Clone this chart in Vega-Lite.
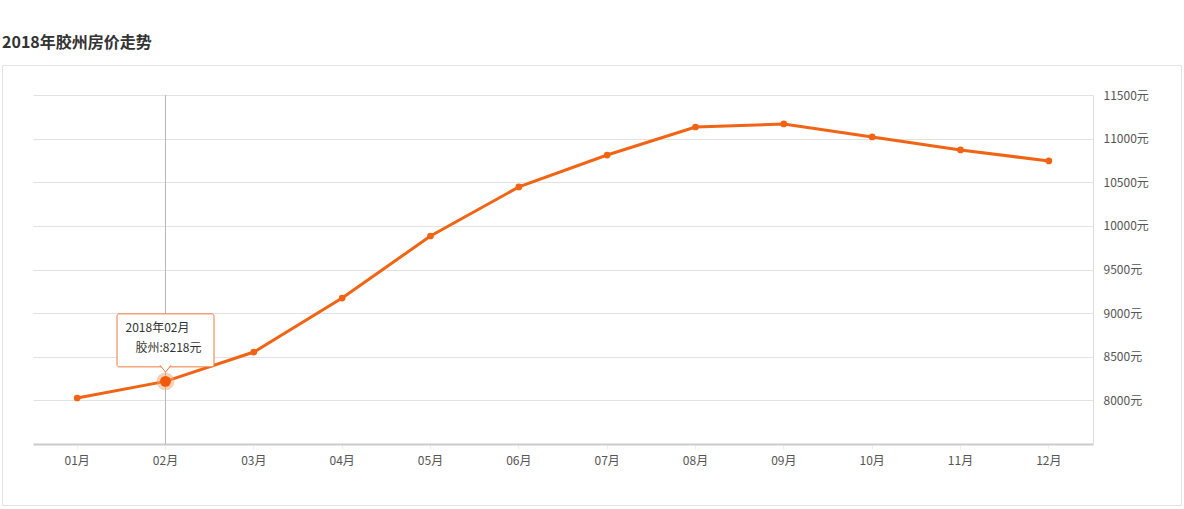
{
  "$schema": "https://vega.github.io/schema/vega-lite/v6.json",
  "autosize": "none",
  "width": 1179,
  "height": 440,
  "padding": {"left": 2, "top": 65, "right": 3, "bottom": 4},
  "background": "white",
  "title": {
    "text": "2018年胶州房价走势",
    "anchor": "start",
    "frame": "group",
    "font": "Noto Sans CJK SC",
    "fontSize": 16,
    "fontWeight": "bold",
    "color": "#333333",
    "offset": 14
  },
  "config": {
    "view": {"stroke": "#e3e3e3", "strokeWidth": 1},
    "font": "Noto Sans CJK SC"
  },
  "datasets": {
    "prices": [
      {"month": "01月", "value": 8027},
      {"month": "02月", "value": 8218},
      {"month": "03月", "value": 8554},
      {"month": "04月", "value": 9173},
      {"month": "05月", "value": 9884},
      {"month": "06月", "value": 10446},
      {"month": "07月", "value": 10812},
      {"month": "08月", "value": 11133},
      {"month": "09月", "value": 11168},
      {"month": "10月", "value": 11019},
      {"month": "11月", "value": 10870},
      {"month": "12月", "value": 10744}
    ],
    "tip": [
      {"month": "02月", "value": 8218, "line1": "2018年02月", "line2": "胶州:8218元"}
    ]
  },
  "data": {"name": "prices"},
  "encoding": {
    "x": {
      "field": "month",
      "type": "ordinal",
      "scale": {"type": "band", "range": [31, 1091], "paddingInner": 0, "paddingOuter": 0},
      "axis": {
        "title": null,
        "orient": "bottom",
        "offset": -61,
        "domainColor": "#cccccc",
        "domainWidth": 2,
        "tickColor": "#eeeeee",
        "tickSize": 5,
        "labelPadding": 6,
        "labelFontSize": 12,
        "labelColor": "#555555",
        "labelAngle": 0,
        "grid": false
      }
    }
  },
  "resolve": {"axis": {"y": "independent"}},
  "layer": [
    {
      "data": {"name": "tip"},
      "mark": {"type": "rule", "color": "#b8b8b8", "strokeWidth": 1},
      "encoding": {
        "y": {"datum": 11500, "type": "quantitative", "scale": {"domain": [7500, 11500], "range": [379, 30], "nice": false, "zero": false}, "axis": null},
        "y2": {"datum": 7500}
      }
    },
    {
      "mark": {"type": "line", "color": "#f06414", "strokeWidth": 3},
      "encoding": {
        "y": {
          "field": "value",
          "type": "quantitative",
          "axis": {
            "title": null,
            "orient": "left",
            "values": [8000, 8500, 9000, 9500, 10000, 10500, 11000, 11500],
            "labels": false,
            "domain": false,
            "ticks": false,
            "grid": true,
            "gridColor": "#e2e2e2"
          }
        }
      }
    },
    {
      "mark": {"type": "point", "filled": true, "color": "#f06414", "size": 45, "opacity": 1},
      "encoding": {
        "y": {
          "field": "value",
          "type": "quantitative",
          "axis": {
            "title": null,
            "orient": "right",
            "offset": -88,
            "values": [8000, 8500, 9000, 9500, 10000, 10500, 11000, 11500],
            "labelExpr": "datum.value + '元'",
            "domainColor": "#dddddd",
            "tickSize": 0,
            "labelPadding": 10,
            "labelFontSize": 12,
            "labelColor": "#555555",
            "grid": false
          }
        }
      }
    },
    {
      "data": {"name": "tip"},
      "mark": {"type": "point", "filled": true, "color": "#f7a46e", "size": 320, "opacity": 0.5},
      "encoding": {"y": {"field": "value", "type": "quantitative", "axis": null}}
    },
    {
      "data": {"name": "tip"},
      "mark": {"type": "point", "filled": true, "color": "#f05a0a", "size": 120, "opacity": 1},
      "encoding": {"y": {"field": "value", "type": "quantitative", "axis": null}}
    },
    {
      "data": {"name": "tip"},
      "mark": {"type": "rect", "width": 97, "height": 53, "yOffset": -41, "fill": "white", "stroke": "#ee7a3c", "strokeWidth": 1, "cornerRadius": 2},
      "encoding": {"y": {"field": "value", "type": "quantitative", "axis": null}}
    },
    {
      "data": {"name": "tip"},
      "mark": {"type": "point", "shape": "M-1,-0.75L0,0.5L1,-0.75", "size": 121, "yOffset": -12, "filled": false, "fill": "white", "fillOpacity": 1, "stroke": "#ee7a3c", "strokeWidth": 1, "opacity": 1},
      "encoding": {"y": {"field": "value", "type": "quantitative", "axis": null}}
    },
    {
      "data": {"name": "tip"},
      "mark": {"type": "text", "align": "left", "baseline": "middle", "dx": -40, "dy": -53, "fontSize": 12, "color": "#333333"},
      "encoding": {"y": {"field": "value", "type": "quantitative", "axis": null}, "text": {"field": "line1"}}
    },
    {
      "data": {"name": "tip"},
      "mark": {"type": "text", "align": "left", "baseline": "middle", "dx": -30, "dy": -33, "fontSize": 12, "color": "#333333"},
      "encoding": {"y": {"field": "value", "type": "quantitative", "axis": null}, "text": {"field": "line2"}}
    }
  ]
}
